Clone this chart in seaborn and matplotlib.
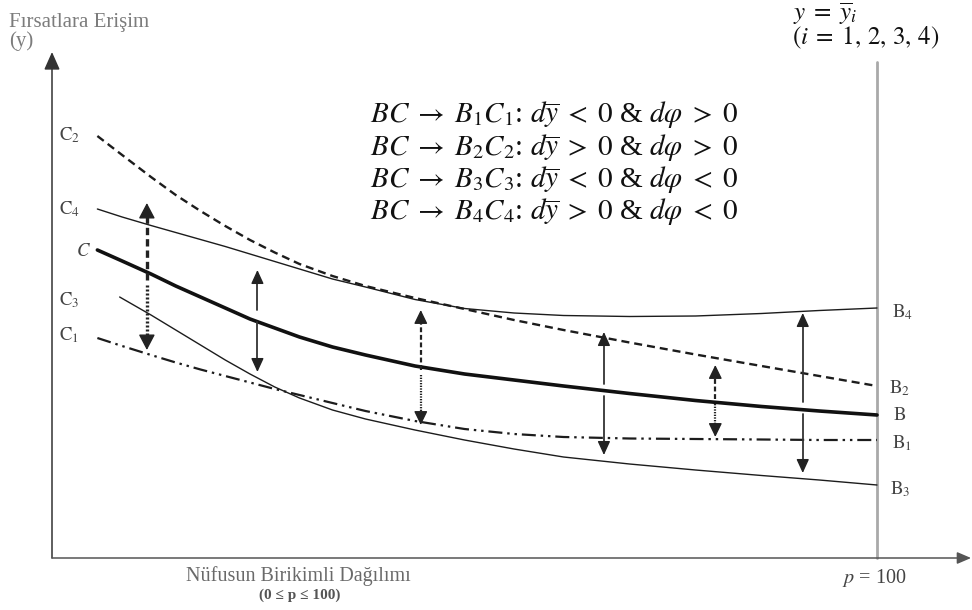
import numpy as np
import pandas as pd
import matplotlib
matplotlib.use("Agg")
import matplotlib.pyplot as plt
import seaborn as sns

# ---------------- data (p: cumulative population share, y: access to opportunities)
p_grid = [5.5, 8.5, 12, 15, 18, 21, 24, 27, 30, 34, 38, 44, 50, 56, 62, 70, 78, 86, 93, 100]
c2_y = [83.8, 80.0, 75.6, 72.0, 68.8, 65.8, 63.0, 60.5, 58.2, 55.8, 53.8, 51.4, 49.2, 47.0,
        45.0, 42.5, 40.1, 37.8, 35.8, 33.8]
c4_y = [69.2, 67.6, 65.9, 64.5, 63.1, 61.7, 60.2, 58.7, 57.2, 55.2, 53.6, 51.1, 49.3, 48.4,
        47.9, 47.7, 47.8, 48.3, 48.9, 49.4]
c_y = [61.0, 58.8, 56.2, 53.8, 51.6, 49.4, 47.2, 45.4, 43.6, 41.6, 40.0, 37.8, 36.2, 35.0,
       33.8, 32.3, 30.9, 29.7, 28.8, 28.0]
c1_y = [43.4, 41.8, 40.0, 38.5, 37.1, 35.8, 34.5, 33.2, 32.0, 30.4, 28.8, 26.8, 25.2, 24.2,
        23.6, 23.3, 23.2, 23.1, 23.0, 23.0]
c3_p = [8.2, 12, 15, 18, 21, 24, 27, 30, 34, 38, 44, 50, 56, 62, 70, 78, 86, 93, 100]
c3_y = [51.6, 48.0, 45.0, 42.0, 39.0, 36.2, 33.6, 31.4, 29.0, 27.2, 25.0, 23.0, 21.2, 19.6,
        18.2, 17.0, 15.9, 15.0, 14.0]

# arrows: position, top tip, split point, bottom tip, kind
arrow_p = [11.5, 24.9, 44.7, 66.9, 80.4, 91.0]
arrow_top = [70.4, 57.0, 49.0, 44.6, 38.0, 48.4]
arrow_split = [55.0, 47.8, 37.0, 33.0, 31.2, 29.4]
arrow_bottom = [41.0, 36.6, 26.0, 20.0, 23.6, 16.4]
arrow_kind = ["dashed", "solid", "dashed", "solid", "dashed", "solid"]

left_labels = [r"$\mathrm{C}_2$", r"$\mathrm{C}_4$", r"$C$", r"$\mathrm{C}_3$", r"$\mathrm{C}_1$"]
right_labels = [r"$\mathrm{B}_4$", r"$\mathrm{B}_2$", r"$\mathrm{B}$", r"$\mathrm{B}_1$", r"$\mathrm{B}_3$"]
equations = [
    r"$BC\;\rightarrow\;B_1C_1$: $d\overline{y}\;<\;0$ & $d\varphi\;>\;0$",
    r"$BC\;\rightarrow\;B_2C_2$: $d\overline{y}\;>\;0$ & $d\varphi\;>\;0$",
    r"$BC\;\rightarrow\;B_3C_3$: $d\overline{y}\;<\;0$ & $d\varphi\;<\;0$",
    r"$BC\;\rightarrow\;B_4C_4$: $d\overline{y}\;>\;0$ & $d\varphi\;<\;0$",
]

# ---------------- style
sns.set_theme(style="white")
plt.rcParams["font.family"] = ["Liberation Serif", "DejaVu Serif"]
plt.rcParams["mathtext.fontset"] = "stix"

W, H = 972, 610
fig = plt.figure(figsize=(W / 100, H / 100), dpi=100)
fig.patch.set_facecolor("white")
ax = fig.add_axes([0, 0, 1, 1])
X0, XS = 52, 8.25     # pixel of p=0 and pixels per p unit
Y0, YS = 555, 5.0     # pixel of y=0 and pixels per y unit

def fx(x):
    return x / W

def fy(y):
    return 1 - y / H

ink = "#1c1c1c"

# ---------------- curves
df = pd.DataFrame({"p": p_grid, "C2": c2_y, "C4": c4_y, "C": c_y, "C1": c1_y})
df3 = pd.DataFrame({"p": c3_p, "C3": c3_y})

sns.lineplot(data=df, x="p", y="C2", ax=ax, color=ink, lw=1.7,
             dashes=(3.4, 2.1), estimator=None, sort=False)
sns.lineplot(data=df, x="p", y="C4", ax=ax, color=ink, lw=1.0, estimator=None, sort=False)
sns.lineplot(data=df, x="p", y="C", ax=ax, color="#111111", lw=2.6, estimator=None, sort=False)
sns.lineplot(data=df3, x="p", y="C3", ax=ax, color=ink, lw=1.0, estimator=None, sort=False)
sns.lineplot(data=df, x="p", y="C1", ax=ax, color=ink, lw=1.6,
             dashes=(6.3, 2.2, 1.1, 2.2, 1.1, 2.2), estimator=None, sort=False)
ax.set_xlim(-X0 / XS, (W - X0) / XS)
ax.set_ylim((Y0 - H) / YS, Y0 / YS)
ax.axis("off")

# ---------------- axes with arrows
base = -0.6
ax.annotate("", xy=(0, 100.6), xytext=(0, base),
            arrowprops=dict(arrowstyle="-|>,head_length=0.9,head_width=0.4",
                            color="#333333", lw=1.1, shrinkA=0, shrinkB=0))
ax.annotate("", xy=(111.4, base), xytext=(0, base),
            arrowprops=dict(arrowstyle="-|>,head_length=0.7,head_width=0.3",
                            color="#555555", lw=1.1, shrinkA=0, shrinkB=0))
ax.plot([100, 100], [base, 98.6], color="#a9a9a9", lw=2.0, zorder=1)

# ---------------- arrows
def head(p, tip, direction, lw, hw, hl):
    ax.annotate("", xy=(p, tip), xytext=(p, tip - direction * 2.2),
                arrowprops=dict(arrowstyle=f"-|>,head_length={hl},head_width={hw}",
                                color="#222222", lw=lw, shrinkA=0, shrinkB=0))

for i, (p, top, sp, bot, kind) in enumerate(zip(arrow_p, arrow_top, arrow_split,
                                               arrow_bottom, arrow_kind)):
    if kind == "dashed":
        big = i == 0
        lw = 2.4 if big else 1.6
        hw, hl = (0.42, 0.8) if big else (0.34, 0.7)
        ax.plot([p, p], [sp, top - 1.5], color="#222222", lw=lw,
                dashes=(2.2, 1.2), solid_capstyle="butt")
        ax.plot([p, p], [sp - 1.0, bot + 1.5], color="#222222", lw=lw,
                dashes=(0.6, 0.6))
        head(p, top, 1, 1.0, hw, hl)
        head(p, bot, -1, 1.0, hw, hl)
    else:
        ax.plot([p, p], [sp + 1.2, top - 1.5], color="#333333", lw=1.3)
        ax.plot([p, p], [sp - 1.2, bot + 1.5], color="#333333", lw=1.3)
        head(p, top, 1, 1.0, 0.32, 0.7)
        head(p, bot, -1, 1.0, 0.32, 0.7)

# ---------------- texts
fig.text(fx(9), fy(23), "Fırsatlara Erişim", color="#7c7c7c", fontsize=15,
         ha="left", va="center")
fig.text(fx(9), fy(41), "(y)", color="#7c7c7c", fontsize=15, ha="left", va="center")

fig.text(fx(793), fy(14), r"$y\;=\;\overline{y}_i$", color="#111111", fontsize=18,
         ha="left", va="center")
fig.text(fx(792), fy(38), r"$(i\;=\;1,\,2,\,3,\,4)$", color="#111111", fontsize=18,
         ha="left", va="center")

for k, eq in enumerate(equations):
    fig.text(fx(370), fy(115 + 32.3 * k), eq, color="#111111", fontsize=21,
             ha="left", va="center")

left_pos = [(59, 135), (59, 209), (76, 252), (59, 300), (59, 335)]
for lab, (x, y) in zip(left_labels, left_pos):
    fig.text(fx(x), fy(y), lab, color="#444444", fontsize=13.5, ha="left", va="center")

right_pos = [(892, 312), (889, 388), (893, 416), (892, 443), (890, 489)]
for lab, (x, y) in zip(right_labels, right_pos):
    fig.text(fx(x), fy(y), lab, color="#444444", fontsize=13.5, ha="left", va="center")

fig.text(fx(298), fy(576), "Nüfusun Birikimli Dağılımı", color="#6a6a6a", fontsize=14.5,
         ha="center", va="center")
fig.text(fx(300), fy(595), "(0 ≤ p ≤ 100)", color="#555555", fontsize=11,
         fontweight="bold", ha="center", va="center")
fig.text(fx(842), fy(578), r"$p$ = 100", color="#444444", fontsize=14.5,
         ha="left", va="center")

fig.savefig("out.png", dpi=100, facecolor="white")
